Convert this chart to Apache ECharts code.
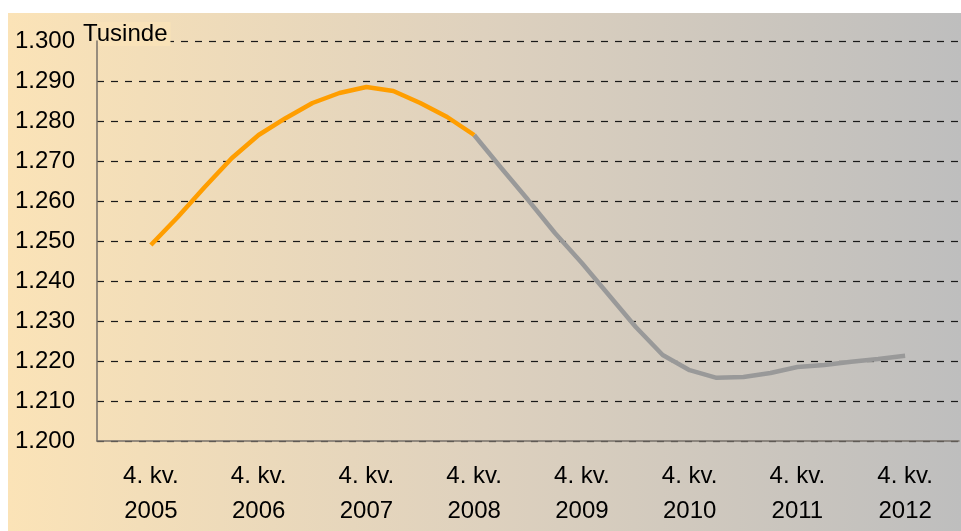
<!DOCTYPE html>
<html>
<head>
<meta charset="utf-8">
<script src="https://cdn.jsdelivr.net/npm/echarts@6/dist/echarts.min.js"></script>
<style>
html,body{margin:0;padding:0;background:#fff;}
#chart{width:961px;height:531px;}
</style>
</head>
<body>
<div id="chart"></div>
<script>
// Quarters on the category axis (2. kv. 2005 .. 2. kv. 2013)
var quarters = [];
for (var y = 2005; y <= 2013; y++) {
  for (var q = 1; q <= 4; q++) {
    if ((y === 2005 && q < 2) || (y === 2013 && q > 2)) continue;
    quarters.push(q + '. kv. ' + y);
  }
}
// Actual values, 4. kv. 2005 .. 4. kv. 2008 (thousands)
var actualStart = '4. kv. 2005';
var actual = [1249, 1256, 1263.5, 1270.7, 1276.5, 1280.7, 1284.5, 1287, 1288.5, 1287.5, 1284.5, 1281, 1276.5];
// Forecast values, 4. kv. 2008 .. 4. kv. 2012 (thousands)
var forecastStart = '4. kv. 2008';
var forecast = [1276.5, 1268.3, 1260.3, 1252, 1244.5, 1236.5, 1228.5, 1221.5, 1217.7, 1215.8, 1216, 1217, 1218.5, 1219, 1219.8, 1220.5, 1221.3];
var yMin = 1200, yMax = 1300, yStep = 10;

function toPairs(start, vals) {
  var s = quarters.indexOf(start);
  return vals.map(function (v, i) { return [quarters[s + i], v]; });
}

var FONT = 'Liberation Sans, Arial, sans-serif';
var chart = echarts.init(document.getElementById('chart'));
chart.setOption({
  animation: false,
  graphic: [{
    type: 'rect', z: -10, silent: true,
    shape: { x: 8, y: 13, width: 953, height: 518 },
    style: {
      fill: new echarts.graphic.LinearGradient(0, 0, 1, 0, [
        { offset: 0, color: '#FBE3B7' },
        { offset: 0.5, color: '#DED1BE' },
        { offset: 1, color: '#BEBEBE' }
      ])
    }
  }],
  grid: { left: 97, top: 41, right: 2, bottom: 90 },
  xAxis: {
    type: 'category',
    data: quarters,
    boundaryGap: false,
    axisLine: { lineStyle: { color: '#77706a', width: 1.5 } },
    axisTick: { show: false },
    axisLabel: {
      interval: function (i, v) { return v.charAt(0) === '4'; },
      formatter: function (v) { var p = v.split(' '); return p[0] + ' ' + p[1] + '\n' + p[2]; },
      color: '#000', fontFamily: FONT, fontSize: 24,
      lineHeight: 35, margin: 18
    },
    splitLine: { show: false }
  },
  yAxis: {
    type: 'value', min: yMin, max: yMax, interval: yStep,
    name: 'Tusinde', nameLocation: 'end', nameGap: 7,
    nameTextStyle: {
      color: '#000', fontFamily: FONT, fontSize: 24,
      align: 'left', verticalAlign: 'middle', padding: [0, 3, 0, -14],
      backgroundColor: '#F9E2B8'
    },
    axisLine: { show: true, lineStyle: { color: '#77706a', width: 1.5 } },
    axisTick: { show: false },
    axisLabel: {
      color: '#000', fontFamily: FONT, fontSize: 24, margin: 22,
      formatter: function (v) { return String(Math.round(v)).replace(/(\d)(\d{3})$/, '$1.$2'); }
    },
    splitLine: { lineStyle: { color: '#1a1a1a', width: 1.2, type: [7, 7] } }
  },
  series: [{
    type: 'line', data: toPairs(forecastStart, forecast), showSymbol: false,
    lineStyle: { color: '#999999', width: 4.5 }, z: 2
  }, {
    type: 'line', data: toPairs(actualStart, actual), showSymbol: false,
    lineStyle: { color: '#FF9E00', width: 4.5 }, z: 3
  }]
});
</script>
</body>
</html>
